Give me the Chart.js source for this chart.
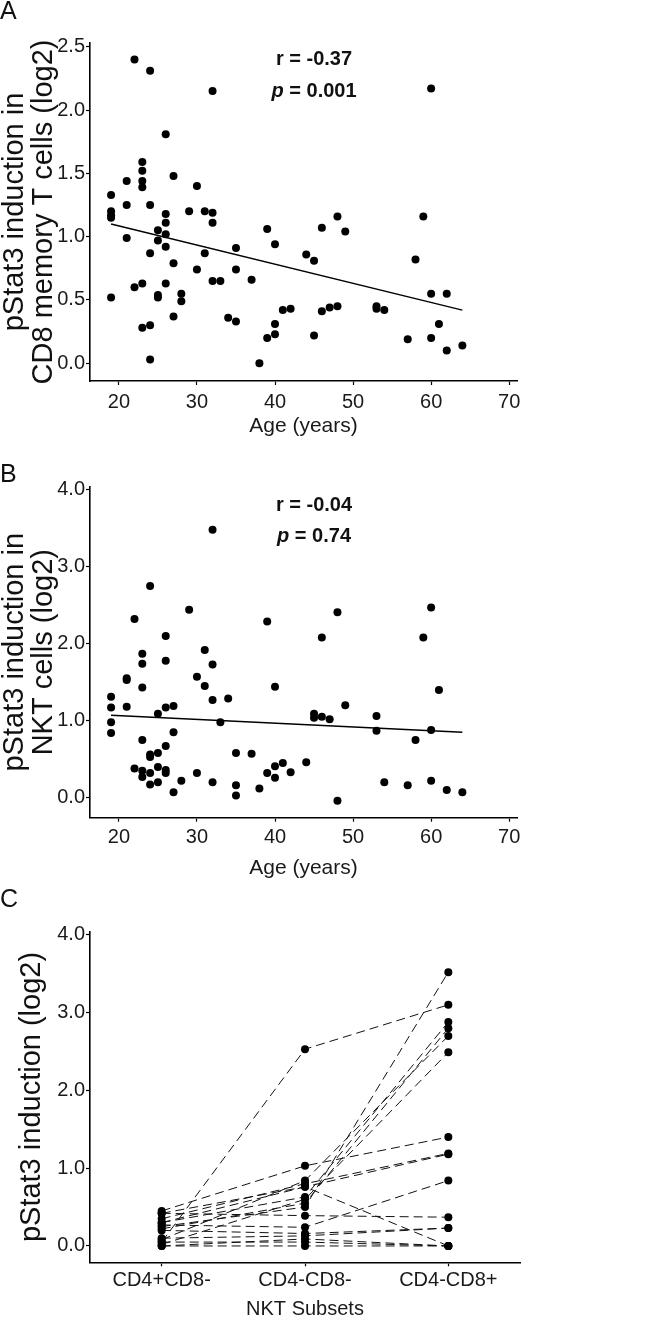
<!DOCTYPE html>
<html>
<head>
<meta charset="utf-8">
<script src="https://cdn.jsdelivr.net/npm/chart.js@4.4.1/dist/chart.umd.min.js"></script>
<style>
  body { margin: 0; background: #fff; width: 666px; height: 1320px; position: relative; overflow: hidden; }
  canvas { position: absolute; left: 0; }
</style>
</head>
<body>
<canvas id="chartA" width="666" height="460" style="top:0px"></canvas>
<canvas id="chartB" width="666" height="425" style="top:460px"></canvas>
<canvas id="chartC" width="666" height="435" style="top:885px"></canvas>
<script>
// tick labels
const ageTicks = [20, 30, 40, 50, 60, 70];
const yTicksA = [0, 0.5, 1, 1.5, 2, 2.5];
const yTicksBC = [0, 1, 2, 3, 4];

// panel A: CD8 memory T cells
const ageA = [19,19,19,19,19, 21,21,21, 22,22, 23,23,23,23,23,23, 24,24,24,24,24, 25,25,25,25,
  26,26,26,26,26,26, 27,27,27, 28,28, 29, 30,30, 31,31, 32,32,32,32, 33, 34, 35,35,35, 37, 38,
  39,39, 40,40,40, 41, 42, 44, 45,45, 46,46, 47, 48,48, 49, 53,53, 54, 57, 58, 59, 60,60,60, 61,
  62,62, 64];
const valA = [1.33,1.20,1.17,1.15,0.52, 1.44,1.25,0.99, 2.40,0.60, 1.59,1.52,1.44,1.39,0.63,0.28,
  2.31,1.25,0.87,0.30,0.03, 1.05,0.97,0.54,0.52, 1.81,1.18,1.11,1.02,0.92,0.63, 1.48,0.79,0.37,
  0.55,0.49, 1.20, 1.40,0.74, 1.20,0.87, 2.15,1.19,1.11,0.65, 0.65, 0.36, 0.91,0.74,0.33, 0.66,
  0.00, 1.06,0.20, 0.94,0.31,0.23, 0.42, 0.43, 0.86, 0.81,0.22, 1.07,0.41, 0.44, 1.16,0.45, 1.04,
  0.45,0.43, 0.42, 0.19, 0.82, 1.16, 2.17,0.55,0.20, 0.31, 0.55,0.10, 0.14];
const fitAge = [19, 64];
const fitValA = [1.10, 0.42];

// panel B: NKT cells
const ageB = [19,19,19,19, 21,21,21, 22,22, 23,23,23,23,23,23, 24,24,24,24,24, 25,25,25,25,
  26,26,26,26,26,26, 27,27,27, 28, 29, 30,30, 31,31, 32,32,32,32, 33, 34, 35,35,35, 37, 38,
  39,39, 40,40,40, 41, 42, 44, 45,45, 46,46, 47, 48,48, 49, 53,53, 54, 57, 58, 59, 60,60,60,
  61, 62, 64];
const valB = [1.31,1.17,0.98,0.84, 1.55,1.53,1.18, 2.32,0.38, 1.87,1.74,1.43,0.75,0.35,0.27,
  2.75,0.56,0.53,0.32,0.17, 1.09,0.58,0.40,0.20, 2.10,1.78,1.17,0.67,0.36,0.32, 1.19,0.85,0.07,
  0.22, 2.44, 1.57,0.32, 1.92,1.45, 3.48,1.73,1.27,0.20, 0.98, 1.29, 0.58,0.16,0.03, 0.57, 0.12,
  2.29,0.32, 1.44,0.41,0.26, 0.45, 0.33, 0.46, 1.09,1.04, 2.08,1.05, 1.02, 2.41,-0.04, 1.20,
  1.06,0.87, 0.20, 0.16, 0.75, 2.08, 2.47,0.88,0.22, 1.40, 0.10, 0.07];
const fitValB = [1.07, 0.85];

// panel C: paired NKT subsets (one entry per donor)
const subsets = ['CD4+CD8-', 'CD4-CD8-', 'CD4-CD8+'];
const cd4pos = [0.05,0.25,0.30,0.22,0.08,0.02,0.45,0.35,0.42,0.27,0.42,0.20,0.10,0.00,0.05,0.00,0.30];
const dnVals = [2.53,0.50,0.63,0.55,0.84,0.60,1.03,0.80,0.76,0.24,0.39,0.16,0.13,0.09,0.05,0.00,0.76];
const cd8pos = [3.10,3.52,2.88,2.80,2.70,2.49,1.40,1.19,1.18,0.84,0.37,0.23,0.23,0.00,0.00,0.00,0.00];

const FONT = '"Liberation Sans", Arial, Helvetica, sans-serif';
Chart.defaults.font.family = FONT;
Chart.defaults.color = '#1a1a1a';

// panel letter + r / p annotation
const panelText = {
  id: 'panelText',
  afterDraw(chart, args, opts) {
    const ctx = chart.ctx;
    ctx.save();
    ctx.fillStyle = '#111';
    ctx.textBaseline = 'top';
    ctx.textAlign = 'left';
    ctx.font = '25px ' + FONT;
    ctx.fillText(opts.letter, 0, opts.letterY);
    if (opts.r) {
      const x = chart.scales.x.getPixelForValue(opts.atX);
      ctx.textBaseline = 'middle';
      ctx.textAlign = 'center';
      ctx.font = 'bold 20px ' + FONT;
      ctx.fillText('r = ' + opts.r, x, chart.scales.y.getPixelForValue(opts.rY));
      const rest = ' = ' + opts.p;
      const yp = chart.scales.y.getPixelForValue(opts.pY);
      ctx.font = 'bold 20px ' + FONT;
      const wRest = ctx.measureText(rest).width;
      ctx.font = 'italic bold 20px ' + FONT;
      const wP = ctx.measureText('p').width;
      const x0 = x - (wP + wRest) / 2;
      ctx.textAlign = 'left';
      ctx.fillText('p', x0, yp);
      ctx.font = 'bold 20px ' + FONT;
      ctx.fillText(rest, x0 + wP, yp);
    }
    ctx.restore();
  }
};

function axisY(min, max, ticks, title, titlePad) {
  return {
    min: min, max: max,
    afterBuildTicks: s => { s.ticks = ticks.map(v => ({ value: v })); },
    afterFit: s => { s.width = 90; },
    ticks: { font: { size: 20 }, color: '#1a1a1a', padding: 1, callback: v => Number(v).toFixed(1) },
    grid: { drawOnChartArea: false, drawTicks: true, tickLength: 4, tickWidth: 1.2, tickColor: '#000' },
    border: { display: true, color: '#000', width: 1.6 },
    title: { display: true, text: title, color: '#111', font: { size: 29, lineHeight: 1.0 }, padding: { top: titlePad, bottom: 0 } }
  };
}

function agePanel(id, ages, vals, fitVals, cfg) {
  new Chart(document.getElementById(id), {
    type: 'scatter',
    data: {
      datasets: [
        {
          data: ages.map((a, i) => ({ x: a, y: vals[i] })),
          pointRadius: 4, pointBackgroundColor: '#000', pointBorderWidth: 0
        },
        {
          data: fitAge.map((a, i) => ({ x: a, y: fitVals[i] })),
          showLine: true, borderColor: '#000', borderWidth: 1.5, pointRadius: 0
        }
      ]
    },
    options: {
      responsive: false,
      animation: false,
      layout: { padding: { top: cfg.top, right: 149, bottom: 0, left: 0 } },
      scales: {
        x: {
          type: 'linear', min: 16.3, max: 71,
          afterBuildTicks: s => { s.ticks = ageTicks.map(v => ({ value: v })); },
          afterFit: s => { s.height = cfg.xh; },
          ticks: { font: { size: 20 }, color: '#1a1a1a', padding: cfg.tickPad },
          grid: { drawOnChartArea: false, drawTicks: true, tickLength: 4, tickWidth: 1.2, tickColor: '#000' },
          border: { display: true, color: '#000', width: 1.6 },
          title: { display: true, text: 'Age (years)', color: '#1a1a1a', font: { size: 21 }, padding: { top: 0, bottom: cfg.titlePad } }
        },
        y: axisY(cfg.ymin, cfg.ymax, cfg.yTicks, cfg.yTitle, 0)
      },
      plugins: {
        legend: { display: false },
        tooltip: { enabled: false },
        panelText: cfg.text
      }
    },
    plugins: [panelText]
  });
}

agePanel('chartA', ageA, valA, fitValA, {
  top: 43, xh: 79, tickPad: 5, titlePad: 21, ymin: -0.14, ymax: 2.53, yTicks: yTicksA,
  yTitle: ['pStat3 induction in', 'CD8 memory T cells (log2)'],
  text: { letter: 'A', letterY: 0, r: '-0.37', p: '0.001', atX: 45, rY: 2.40, pY: 2.15 }
});

agePanel('chartB', ageB, valB, fitValB, {
  top: 26.7, xh: 67.3, tickPad: 4, titlePad: 4, ymin: -0.26, ymax: 4.04, yTicks: yTicksBC,
  yTitle: ['pStat3 induction in', 'NKT cells (log2)'],
  text: { letter: 'B', letterY: 3, r: '-0.04', p: '0.74', atX: 45, rY: 3.80, pY: 3.39 }
});

// panel C: one dashed line per donor
new Chart(document.getElementById('chartC'), {
  type: 'line',
  data: {
    labels: subsets,
    datasets: cd4pos.map((v, i) => ({
      data: [v, dnVals[i], cd8pos[i]],
      borderColor: '#111', borderWidth: 1, borderDash: [9, 5],
      pointRadius: 4, pointBackgroundColor: '#000', pointBorderWidth: 0,
      fill: false, tension: 0
    }))
  },
  options: {
    responsive: false,
    animation: false,
    layout: { padding: { top: 46.7, right: 146, bottom: 0, left: 0 } },
    scales: {
      x: {
        type: 'category', offset: true,
        afterFit: s => { s.height = 57.7; },
        ticks: { font: { size: 20 }, color: '#1a1a1a', padding: 2 },
        grid: { drawOnChartArea: false, drawTicks: true, tickLength: 4, tickWidth: 1.2, tickColor: '#000', offset: false },
        border: { display: true, color: '#000', width: 1.6 },
        title: { display: true, text: 'NKT Subsets', color: '#1a1a1a', font: { size: 20, lineHeight: 1.0 }, padding: { top: 0, bottom: 1 } }
      },
      y: axisY(-0.21, 4.04, yTicksBC, 'pStat3 induction (log2)', 17)
    },
    plugins: {
      legend: { display: false },
      tooltip: { enabled: false },
      panelText: { letter: 'C', letterY: 3 }
    }
  },
  plugins: [panelText]
});
</script>
</body>
</html>
